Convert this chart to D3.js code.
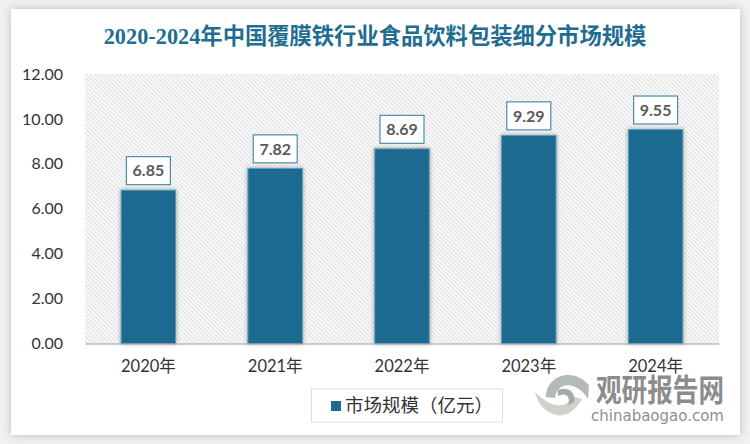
<!DOCTYPE html>
<html>
<head>
<meta charset="utf-8">
<script src="https://cdn.jsdelivr.net/npm/d3@7"></script>
<style>
  html, body { margin: 0; padding: 0; background: #f1f1f1; overflow: hidden; }
  text { font-family: Lato, "Noto Sans CJK SC", sans-serif; }
</style>
</head>
<body>
<svg id="chart" width="750" height="444"></svg>
<script>
var titleText = '2020-2024年中国覆膜铁行业食品饮料包装细分市场规模';
var years = ['2020年', '2021年', '2022年', '2023年', '2024年'];
var marketSize = [6.85, 7.82, 8.69, 9.29, 9.55];
var yTicks = [0, 2, 4, 6, 8, 10, 12];
var legendText = '市场规模（亿元）';

var barColor = '#1c6b8f';
var barBorder = '#5f9db8';
var labelBorder = '#4a8cab';

var plotLeft = 85, plotRight = 719, plotTop = 74, plotBottom = 343.5;

var svg = d3.select('#chart');
var defs = svg.append('defs');

// card shadow
var cardShadow = defs.append('filter').attr('id', 'cardShadow')
  .attr('x', '-5%').attr('y', '-5%').attr('width', '110%').attr('height', '110%');
cardShadow.append('feDropShadow').attr('dx', 0).attr('dy', 0)
  .attr('stdDeviation', 5).attr('flood-color', '#000').attr('flood-opacity', 0.22);

var barShadow = defs.append('filter').attr('id', 'barShadow')
  .attr('x', '-20%').attr('y', '-20%').attr('width', '140%').attr('height', '140%');
barShadow.append('feDropShadow').attr('dx', 0).attr('dy', 0)
  .attr('stdDeviation', 2).attr('flood-color', '#000').attr('flood-opacity', 0.35);

var hatch = defs.append('pattern').attr('id', 'hatch')
  .attr('width', 3).attr('height', 3)
  .attr('patternUnits', 'userSpaceOnUse')
  .attr('patternTransform', 'rotate(45)');
hatch.append('rect').attr('width', 3).attr('height', 3).attr('fill', '#fcfcfc');
hatch.append('rect').attr('width', 3).attr('height', 1.2).attr('fill', '#dfdfdf');

svg.append('rect')
  .attr('x', 11).attr('y', 9).attr('width', 729).attr('height', 426)
  .attr('fill', '#fff')
  .attr('filter', 'url(#cardShadow)');

svg.append('text')
  .attr('x', 375).attr('y', 44)
  .attr('text-anchor', 'middle')
  .attr('fill', '#1f6d90')
  .attr('font-size', 22.3)
  .attr('font-weight', 'bold')
  .style('font-family', '"Liberation Serif", "Noto Sans CJK SC", serif')
  .text(titleText);

var x = d3.scaleBand().domain(years).range([plotLeft, plotRight]).paddingInner(0.57).paddingOuter(0.285);
var y = d3.scaleLinear().domain([0, 12]).range([plotBottom, plotTop]);

svg.append('rect')
  .attr('x', plotLeft).attr('y', plotTop)
  .attr('width', plotRight - plotLeft).attr('height', plotBottom - plotTop)
  .attr('fill', 'url(#hatch)');

var yAxis = d3.axisLeft(y).tickValues(yTicks).tickFormat(d3.format('.2f')).tickSize(0).tickPadding(22);
var gy = svg.append('g').attr('transform', 'translate(' + plotLeft + ',0)').call(yAxis);
gy.select('.domain').remove();
gy.selectAll('text').attr('font-size', 16).attr('fill', '#333');

var rows = years.map(function (d, i) { return { year: d, value: marketSize[i] }; });

// stroke sits inside the value, so nudge half a pixel down
svg.selectAll('.bar').data(rows).enter().append('rect')
  .attr('class', 'bar')
  .attr('x', function (d) { return x(d.year); })
  .attr('y', function (d) { return y(d.value) + 0.5; })
  .attr('width', x.bandwidth())
  .attr('height', function (d) { return plotBottom - y(d.value) - 0.5; })
  .attr('fill', barColor)
  .attr('stroke', barBorder)
  .attr('stroke-width', 1)
  .attr('filter', 'url(#barShadow)');

var xAxis = d3.axisBottom(x).tickSize(0).tickPadding(17);
var gx = svg.append('g').attr('transform', 'translate(0,' + plotBottom + ')').call(xAxis);
gx.select('.domain').attr('stroke', '#9a9a9a').attr('stroke-width', 1.2);
gx.selectAll('text').attr('font-size', 16.5).attr('fill', '#333');

// value labels
var labelW = 44, labelH = 28, labelGap = 5;
var labels = svg.selectAll('.label').data(rows).enter().append('g').attr('class', 'label')
  .attr('transform', function (d) {
    return 'translate(' + (x(d.year) + x.bandwidth() / 2) + ',' + (y(d.value) - labelGap - labelH / 2) + ')';
  });
labels.append('rect')
  .attr('x', -labelW / 2).attr('y', -labelH / 2)
  .attr('width', labelW).attr('height', labelH)
  .attr('fill', '#fff')
  .attr('stroke', labelBorder)
  .attr('stroke-width', 1.2);
labels.append('text')
  .attr('text-anchor', 'middle')
  .attr('dy', '0.36em')
  .attr('font-size', 16)
  .attr('font-weight', 'bold')
  .attr('fill', '#595959')
  .text(function (d) { return d3.format('.2f')(d.value); });

// legend
svg.append('rect')
  .attr('x', 311.5).attr('y', 389).attr('width', 191).attr('height', 33)
  .attr('fill', '#fff').attr('stroke', '#dedede');
svg.append('rect')
  .attr('x', 331).attr('y', 401).attr('width', 10).attr('height', 10)
  .attr('fill', barColor);
svg.append('text')
  .attr('x', 345).attr('y', 412)
  .attr('font-size', 18.5).attr('fill', '#333')
  .text(legendText);

// watermark
var wm = svg.append('g');

var swooshTop = d3.path();
swooshTop.moveTo(546, 397);
swooshTop.bezierCurveTo(546, 376, 572, 366, 589, 385);
swooshTop.lineTo(588, 399);
swooshTop.bezierCurveTo(578, 382, 558, 380, 555, 398);
swooshTop.closePath();
wm.append('path').attr('d', swooshTop.toString()).attr('fill', '#b4b9bb');

var swooshBottom = d3.path();
swooshBottom.moveTo(535, 392);
swooshBottom.bezierCurveTo(540, 414, 566, 428, 582, 399);
swooshBottom.lineTo(572, 396);
swooshBottom.bezierCurveTo(568, 410, 550, 408, 535, 392);
swooshBottom.closePath();
wm.append('path').attr('d', swooshBottom.toString()).attr('fill', '#d2d0cb');

var swooshCore = d3.path();
swooshCore.moveTo(558, 390);
swooshCore.bezierCurveTo(568, 386, 576, 392, 574, 402);
swooshCore.lineTo(568, 406);
swooshCore.bezierCurveTo(571, 396, 566, 392, 558, 396);
swooshCore.closePath();
wm.append('path').attr('d', swooshCore.toString()).attr('fill', '#a4a9ab');

wm.append('text')
  .attr('transform', 'translate(596,401) scale(1,1.2)')
  .attr('font-size', 26).attr('font-weight', 'bold').attr('fill', '#8c8c8c')
  .style('font-family', '"Noto Sans CJK SC", sans-serif')
  .attr('textLength', 128)
  .attr('lengthAdjust', 'spacingAndGlyphs')
  .text('观研报告网');
wm.append('text')
  .attr('x', 591).attr('y', 421)
  .attr('font-size', 15).attr('fill', '#8f8f8f')
  .style('font-family', '"DejaVu Sans", sans-serif')
  .attr('textLength', 133)
  .attr('lengthAdjust', 'spacingAndGlyphs')
  .text('chinabaogao.com');
</script>
</body>
</html>
